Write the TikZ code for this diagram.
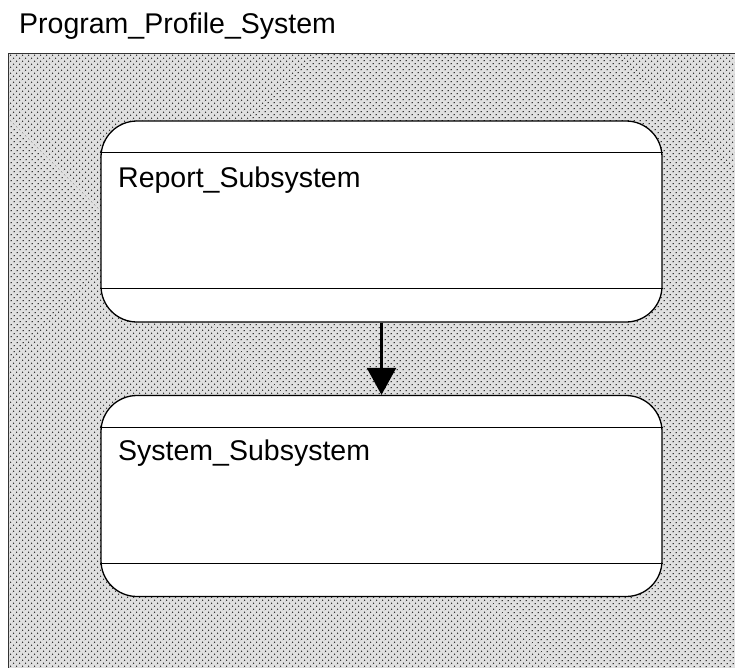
\documentclass[tikz,border=0pt]{standalone}
\usepackage{fontspec}
\setmainfont{Liberation Sans}
\usetikzlibrary{arrows.meta,patterns.meta}
\begin{document}
\begin{tikzpicture}[x=1pt,y=-1pt,
  halftone/.style={pattern={Dots[distance=4pt,radius=0.8pt,angle=45]},pattern color=black!85},
  subsystem/.style={draw=black,line width=1.3pt,fill=white,rounded corners=36pt,
    minimum width=561pt,minimum height=201pt,inner sep=0pt},
  divider/.style={draw=black,line width=1.2pt},
  label/.style={font=\fontsize{28.5}{34}\selectfont,inner sep=0pt,anchor=base west},
  flow/.style={line width=2.6pt,-{Triangle[width=29pt,length=27pt]}}]
\useasboundingbox (0,0) rectangle (735,667);
% white page
\fill[white] (0,0) rectangle (735,667);
% system frame with halftone background
\fill[black!12] (8,53) rectangle (740,672);
\fill[halftone] (8,53) rectangle (740,672);
\draw[line width=0.9pt,black!80] (8,672) -- (8,53) -- (740,53);
\node[label] (title) at (19,33) {Program\_Profile\_System};
% subsystems
\node[subsystem] (report) at (381.5,221.5) {};
\node[subsystem] (system) at (381.5,496) {};
\draw[divider] ([yshift=-32pt]report.north west) -- ([yshift=-32pt]report.north east);
\draw[divider] ([yshift=34pt]report.south west) -- ([yshift=34pt]report.south east);
\draw[divider] ([yshift=-33pt]system.north west) -- ([yshift=-33pt]system.north east);
\draw[divider] ([yshift=34pt]system.south west) -- ([yshift=34pt]system.south east);
\node[label] (reportname) at (118,187) {Report\_Subsystem};
\node[label] (systemname) at (118,460) {System\_Subsystem};
% dependency
\draw[flow] (report.south) -- (system.north);
\end{tikzpicture}
\end{document}
